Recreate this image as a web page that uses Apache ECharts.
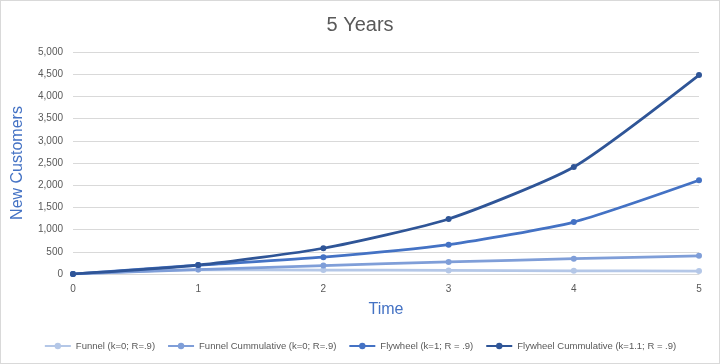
<!DOCTYPE html>
<html><head><meta charset="utf-8">
<script src="https://cdn.jsdelivr.net/npm/echarts@6/dist/echarts.min.js"></script>
<style>html,body{margin:0;padding:0;background:#fff}#c{width:718px;height:362px;border:1px solid #D9D9D9}</style>
</head><body><div id="c"></div>
<script>
const times = [0, 1, 2, 3, 4, 5];
const seriesNames = ['Funnel (k=0; R=.9)', 'Funnel Cummulative (k=0; R=.9)', 'Flywheel (k=1; R = .9)', 'Flywheel Cummulative (k=1.1; R = .9)'];
const funnel = [0, 100, 90, 81, 73, 66];
const funnelCum = [0, 100, 190, 271, 344, 410];
const flywheel = [0, 200, 380, 660, 1170, 2110];
const flywheelCum = [0, 200, 580, 1240, 2410, 4480];
const colors = ['#B4C7E7', '#7F9ED8', '#4472C4', '#2F5597'];
const allData = [funnel, funnelCum, flywheel, flywheelCum];

const chart = echarts.init(document.getElementById('c'));
chart.setOption({
  animation: false,
  title: {text: '5 Years', left: 'center', top: 9, textStyle: {fontFamily: 'Liberation Sans', fontWeight: 'normal', fontSize: 20, color: '#595959'}},
  grid: {left: 72, right: 20, top: 51, bottom: 89},
  legend: {
    bottom: 7, left: 'center', itemWidth: 26, itemHeight: 8, itemGap: 12,
    textStyle: {fontFamily: 'Liberation Sans', fontSize: 9.5, color: '#595959'},
    data: seriesNames
  },
  xAxis: {
    type: 'value', min: 0, max: 5, interval: 1,
    name: 'Time', nameLocation: 'middle', nameGap: 28,
    nameTextStyle: {fontFamily: 'Liberation Sans', fontSize: 16, color: '#4472C4'},
    axisLine: {lineStyle: {color: '#D9D9D9'}}, axisTick: {show: false},
    splitLine: {show: false},
    axisLabel: {fontFamily: 'Liberation Sans', fontSize: 10, color: '#595959', margin: 10}
  },
  yAxis: {
    type: 'value', min: 0, max: 5000, interval: 500,
    name: 'New Customers', nameLocation: 'middle', nameGap: 47, nameRotate: 90,
    nameTextStyle: {fontFamily: 'Liberation Sans', fontSize: 16, color: '#4472C4'},
    axisLine: {show: false}, axisTick: {show: false},
    splitLine: {lineStyle: {color: '#D9D9D9'}},
    axisLabel: {fontFamily: 'Liberation Sans', fontSize: 10, color: '#595959', margin: 10,
      formatter: v => v.toLocaleString('en-US')}
  },
  series: seriesNames.map((n, i) => ({
    name: n, type: 'line', smooth: 0.2,
    data: times.map((t, j) => [t, allData[i][j]]),
    symbol: 'circle', symbolSize: 6,
    lineStyle: {width: 2.75, color: colors[i]},
    itemStyle: {color: colors[i]}
  }))
});
</script></body></html>
